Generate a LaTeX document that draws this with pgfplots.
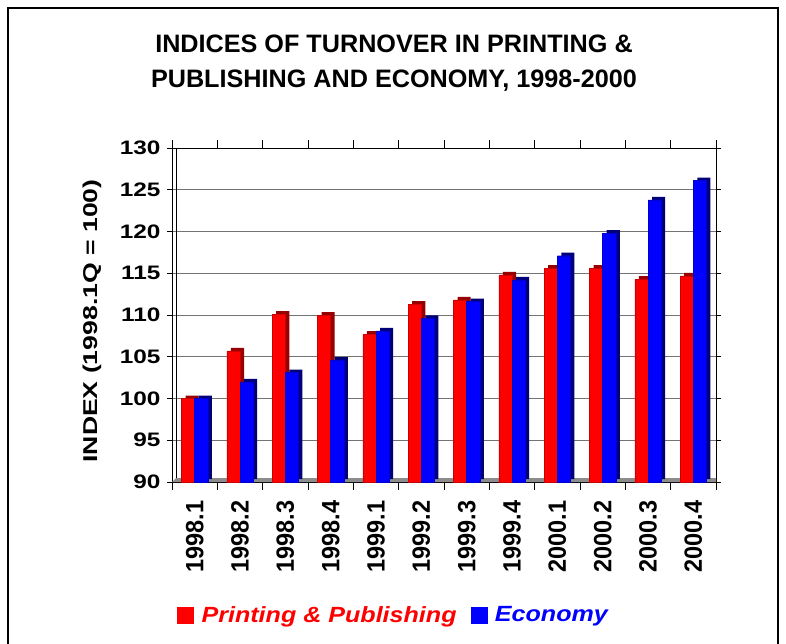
\documentclass[border=0pt]{standalone}
\usepackage{fontspec}
\setmainfont{Liberation Sans}
\newfontfamily\ytickfont{Liberation Sans}[FakeStretch=1.25]
\newfontfamily\xtickfont{Liberation Sans Bold}[FakeStretch=0.94]
\newfontfamily\ylabfont{Liberation Sans}[FakeStretch=1.33]
\newfontfamily\legfont{Liberation Sans}[FakeStretch=1.14]
\newcommand{\xl}[1]{\hbox{\xtickfont\fontsize{25}{27}\selectfont #1}}
\usepackage{pgfplots}
\usepackage{pgfplotstable}
\pgfplotsset{compat=1.18}
\definecolor{redside}{RGB}{150,0,0}
\definecolor{blueside}{RGB}{0,0,120}

\pgfplotstableread{
x pp ec
0 100.0 100.0
1 105.7 102.0
2 110.1 103.1
3 110.0 104.6
4 107.7 108.1
5 111.3 109.6
6 111.8 111.6
7 114.8 114.2
8 115.6 117.1
9 115.6 119.8
10 114.3 123.8
11 114.7 126.1
}\datatable

\begin{document}
\begin{tikzpicture}
\useasboundingbox (0,0) rectangle (786pt,643pt);
\fill[white] (0,0) rectangle (786pt,643pt);
\draw[line width=2pt] (8pt,-5pt) -- (8pt,635pt) -- (778pt,635pt) -- (778pt,-5pt);
\node[anchor=base, font=\bfseries\fontsize{25.2}{27}\selectfont] at (394pt,590.7pt) {INDICES OF TURNOVER IN PRINTING \&};
\node[anchor=base, font=\bfseries\fontsize{25.2}{27}\selectfont] at (394pt,555.3pt) {PUBLISHING AND ECONOMY, 1998-2000};
\begin{axis}[
  at={(172pt,161pt)}, anchor=south west, scale only axis,
  width=544pt, height=334pt,
  xmin=-0.5, xmax=11.5, ymin=90, ymax=130,
  ytick={90,95,...,130},
  xtick={0,...,11},
  xticklabels={\xl{1998.1},\xl{1998.2},\xl{1998.3},\xl{1998.4},\xl{1999.1},\xl{1999.2},\xl{1999.3},\xl{1999.4},\xl{2000.1},\xl{2000.2},\xl{2000.3},\xl{2000.4}},
  minor xtick={-0.5,0.5,...,11.5},
  ymajorgrids, grid style={black!55, line width=0.8pt},
  axis line style={black, line width=1pt},
  tick align=outside,
  major tick length=5pt, minor tick length=8pt,
  major x tick style={draw=none},
  minor x tick style={black, line width=0.8pt},
  y tick style={black, line width=0.8pt},
  /pgf/number format/assume math mode=true,
  yticklabel style={font=\ytickfont\bfseries\fontsize{19.5}{21}\selectfont, xshift=-3pt},
  xticklabel style={rotate=90, anchor=east},
  xticklabel shift=10pt,
  ylabel={INDEX (1998.1Q = 100)},
  ylabel style={font=\ylabfont\bfseries\fontsize{20}{22}\selectfont, at={(axis description cs:-0.147,0.482)}, anchor=center},
  legend style={at={(axis description cs:0.0092,-0.398)}, anchor=west, draw=none, fill=none,
    legend columns=2, inner sep=0pt, font=\legfont\bfseries\itshape\fontsize{22}{24}\selectfont,
    /tikz/every even column/.append style={column sep=12pt}},
  bar width=0.29,
]
\fill[black!45] (rel axis cs:0,0) -- (rel axis cs:1,0) -- ([shift={(4pt,4pt)}]rel axis cs:1,0) -- ([shift={(4pt,4pt)}]rel axis cs:0,0) -- cycle;
\draw[black, line width=0.8pt] ([shift={(4pt,4pt)}]rel axis cs:0,0) -- ([xshift=4pt]rel axis cs:0,1);
\addplot[ybar, bar shift=-0.145, fill=redside, draw=none, xshift=4pt, yshift=3pt, forget plot] table[x=x,y=pp]{\datatable};
\addplot[ybar, bar shift=-0.145, fill=red, draw=red!80!black, line width=0.4pt,
  legend image code/.code={\fill[red] (0pt,-8pt) rectangle (16pt,8pt);}] table[x=x,y=pp]{\datatable};
\addlegendentry{\hspace*{6pt}\textcolor{red}{Printing \& Publishing}}
\addplot[ybar, bar shift=0.145, fill=blueside, draw=none, xshift=4pt, yshift=3pt, forget plot] table[x=x,y=ec]{\datatable};
\addplot[ybar, bar shift=0.145, fill=blue, draw=blue!80!black, line width=0.4pt,
  legend image code/.code={\fill[blue] (0pt,-8pt) rectangle (16pt,8pt);}] table[x=x,y=ec]{\datatable};
\addlegendentry{\hspace*{6pt}\textcolor{blue}{Economy}}
\end{axis}
\end{tikzpicture}
\end{document}
